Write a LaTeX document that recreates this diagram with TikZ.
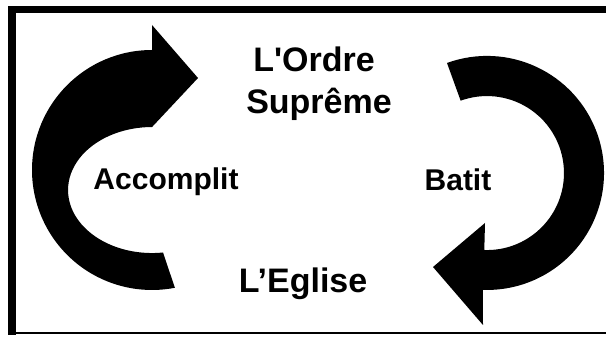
\documentclass[tikz,border=0pt]{standalone}
\usepackage{fontspec}
\setmainfont{Liberation Sans}
\usepackage{tikz}

\begin{document}
\begin{tikzpicture}[x=1pt, y=1pt,
  titlenode/.style={font=\fontsize{34}{40}\selectfont\bfseries, inner sep=0pt, anchor=base},
  verbnode/.style={font=\fontsize{30}{34}\selectfont\bfseries, inner sep=0pt, anchor=base},
  bentarrow/.style={fill=black, draw=none}]
\useasboundingbox (0,0) rectangle (606,337);

\draw[line width=7.5pt, line join=miter] (606,327.5) -- (12,327.5) -- (12,2);
\draw[line width=2.5pt] (12,4) -- (606,4);

\fill[bentarrow] (152,287) arc[start angle=90, end angle=281, radius=120]
  -- (163,84.5) arc[start angle=-82.5, end angle=-270, x radius=84, y radius=63]
  -- (198,259) -- (152,312) -- cycle;

\fill[bentarrow] (447,274) arc[start angle=110, end angle=-92, radius=117]
  -- (483,12) -- (433,70) -- (485,114) -- (484.3,87)
  arc[start angle=-92, end angle=110, radius=77] -- cycle;

\node[titlenode] (ordre) at (314,265) {L\textquotesingle Ordre};
\node[titlenode] (supreme) at (319,223) {Suprême};
\node[titlenode] (eglise) at (303,44) {L'Eglise};
\node[verbnode] (accomplit) at (166,147) {Accomplit};
\node[verbnode] (batit) at (458,146) {Batit};

\end{tikzpicture}
\end{document}
